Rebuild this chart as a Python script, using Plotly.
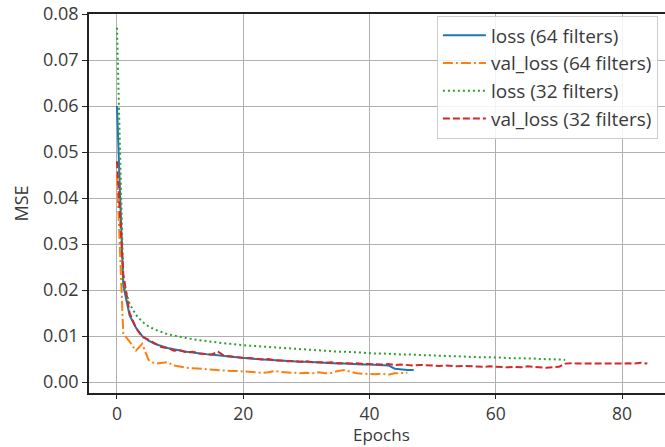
import plotly.graph_objects as go

loss_64 = [0.060, 0.021, 0.0145, 0.0118, 0.0100, 0.0090, 0.0083, 0.0078, 0.0074, 0.0071,
           0.0068, 0.0066, 0.0064, 0.0062, 0.0061, 0.0059, 0.0058, 0.0056, 0.0055, 0.0054,
           0.0052, 0.0051, 0.0050, 0.0049, 0.0048, 0.0047, 0.0046, 0.0046, 0.0045, 0.0044,
           0.0044, 0.0043, 0.0042, 0.0042, 0.0041, 0.0040, 0.0040, 0.0039, 0.0039, 0.0038,
           0.0038, 0.0037, 0.0037, 0.0036, 0.0029, 0.0027, 0.0026, 0.0026]

val_loss_64 = [0.045, 0.0105, 0.0088, 0.0068, 0.0083, 0.0048, 0.0040, 0.0041, 0.0043, 0.0036,
               0.0033, 0.0031, 0.0030, 0.0029, 0.0027, 0.0026, 0.0025, 0.0025, 0.0024, 0.0024,
               0.0023, 0.0022, 0.0022, 0.0020, 0.0021, 0.0024, 0.0022, 0.0021, 0.0021, 0.0019,
               0.0020, 0.0019, 0.0021, 0.0019, 0.0020, 0.0024, 0.0026, 0.0022, 0.0019, 0.0018,
               0.0017, 0.0017, 0.0018, 0.0016, 0.0019, 0.0020, 0.0020]

loss_32 = [0.077, 0.0215, 0.0170, 0.0146, 0.0131, 0.0121, 0.0114, 0.0109, 0.0104, 0.0101,
           0.0098, 0.0096, 0.0093, 0.0091, 0.0089, 0.0087, 0.0086, 0.0084, 0.0083, 0.0081,
           0.0080, 0.0079, 0.0078, 0.0077, 0.0076, 0.0075, 0.0074, 0.0073, 0.0072, 0.0071,
           0.0070, 0.0069, 0.0069, 0.0068, 0.0067, 0.0066, 0.0066, 0.0065, 0.0064, 0.0064,
           0.0063, 0.0062, 0.0062, 0.0061, 0.0061, 0.0060, 0.0060, 0.0059, 0.0059, 0.0058,
           0.0058, 0.0057, 0.0057, 0.0056, 0.0056, 0.0055, 0.0055, 0.0054, 0.0054, 0.0054,
           0.0053, 0.0053, 0.0052, 0.0052, 0.0052, 0.0051, 0.0051, 0.0050, 0.0050, 0.0049,
           0.0049, 0.0048]

val_loss_32 = [0.048, 0.0235, 0.0150, 0.0118, 0.0098, 0.0092, 0.0084, 0.0076, 0.0074, 0.0068,
               0.0069, 0.0064, 0.0066, 0.0062, 0.0061, 0.0060, 0.0066, 0.0057, 0.0056, 0.0054,
               0.0052, 0.0052, 0.0050, 0.0049, 0.0050, 0.0047, 0.0047, 0.0045, 0.0046, 0.0044,
               0.0045, 0.0043, 0.0043, 0.0042, 0.0043, 0.0041, 0.0041, 0.0040, 0.0041, 0.0039,
               0.0039, 0.0038, 0.0038, 0.0039, 0.0037, 0.0038, 0.0037, 0.0036, 0.0037, 0.0036,
               0.0036, 0.0035, 0.0036, 0.0035, 0.0034, 0.0035, 0.0034, 0.0034, 0.0033, 0.0034,
               0.0033, 0.0033, 0.0032, 0.0033, 0.0032, 0.0034, 0.0033, 0.0032, 0.0031, 0.0032,
               0.0033, 0.0040, 0.0041, 0.0040, 0.0040, 0.0039, 0.0040, 0.0039, 0.0040, 0.0039,
               0.0040, 0.0041, 0.0040, 0.0042, 0.0040]

series = [
    ("loss (64 filters)", loss_64, "#1f77b4", "solid"),
    ("val_loss (64 filters)", val_loss_64, "#ff7f0e", "10px,3px,2px,3px"),
    ("loss (32 filters)", loss_32, "#2ca02c", "2px,3px"),
    ("val_loss (32 filters)", val_loss_32, "#d62728", "7px,3px"),
]

fig = go.Figure()
for name, vals, color, dash in series:
    fig.add_trace(go.Scatter(
        x=list(range(len(vals))), y=vals, mode="lines", name=name,
        line=dict(color=color, width=2, dash=dash),
    ))

font = dict(family="Open Sans", size=18, color="#3a3a3a")
legend_font = dict(family="Open Sans", size=19, color="#3a3a3a")

fig.update_layout(
    width=665, height=447,
    margin=dict(l=89, r=0, t=14, b=54),
    paper_bgcolor="white", plot_bgcolor="white",
    font=font,
    showlegend=True,
    legend=dict(
        x=0.604, y=0.996, xanchor="left", yanchor="top",
        bgcolor="rgba(255,255,255,0.85)", bordercolor="#cccccc", borderwidth=1,
        font=legend_font,
        tracegroupgap=0, itemwidth=43,
    ),
    xaxis=dict(
        range=[-4.43, 86.8], tickvals=[0, 20, 40, 60, 80],
        tickfont=dict(family="Open Sans", size=17.5, color="#3a3a3a"),
        showgrid=True, gridcolor="#b0b0b0", gridwidth=1,
        showline=True, linecolor="#222222", linewidth=1.5, mirror=True,
        ticks="outside", ticklen=4, tickcolor="#222222",
        zeroline=False,
    ),
    yaxis=dict(
        range=[-0.00239, 0.080], tickvals=[0, 0.01, 0.02, 0.03, 0.04, 0.05, 0.06, 0.07, 0.08],
        tickformat=".2f",
        showgrid=True, gridcolor="#b0b0b0", gridwidth=1,
        showline=True, linecolor="#222222", linewidth=1.5,
        ticks="outside", ticklen=5, tickcolor="#222222",
        zeroline=False,
        title=dict(text="MSE", font=font, standoff=10),
    ),
    annotations=[dict(
        text="Epochs", xref="paper", yref="paper", x=0.508, y=-0.1425,
        xanchor="center", yanchor="bottom", showarrow=False,
        font=dict(family="Open Sans", size=17, color="#3a3a3a"), borderpad=0,
    )],
)

fig.write_html("out.html")
